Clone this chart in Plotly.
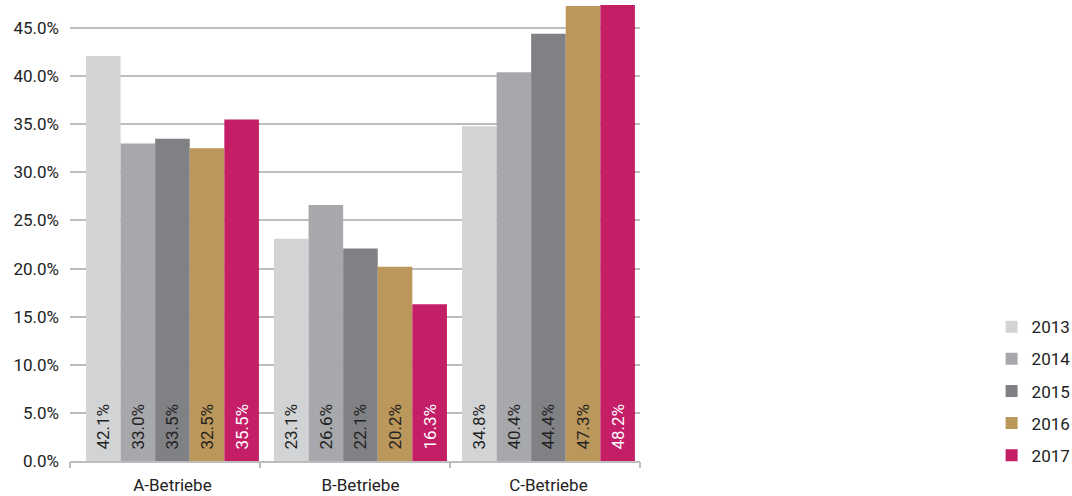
import plotly.graph_objects as go

categories = ["A-Betriebe", "B-Betriebe", "C-Betriebe"]
years = ["2013", "2014", "2015", "2016", "2017"]
values = {
    "2013": [42.1, 23.1, 34.8],
    "2014": [33.0, 26.6, 40.4],
    "2015": [33.5, 22.1, 44.4],
    "2016": [32.5, 20.2, 47.3],
    "2017": [35.5, 16.3, 48.2],
}
colors = {
    "2013": "#d2d3d5",
    "2014": "#a7a8ac",
    "2015": "#808185",
    "2016": "#bb975b",
    "2017": "#c41e67",
}
text_colors = {"2013": "#222222", "2014": "#222222", "2015": "#222222",
               "2016": "#222222", "2017": "#ffffff"}
y_ticks = [0, 5, 10, 15, 20, 25, 30, 35, 40, 45]
boundary_ticks = [0, 1, 2, 3]

FONT = "Roboto"
PAD = "\u00a0\u00a0"

fig = go.Figure()
for y in years:
    fig.add_trace(go.Bar(
        name=y, x=categories, y=values[y],
        marker=dict(color=colors[y], line=dict(width=0)),
        text=[f"{PAD}{v:.1f}%" for v in values[y]],
        textposition="inside", insidetextanchor="start", textangle=-90,
        textfont=dict(family=FONT, size=17, color=text_colors[y]),
        legendgroup=y,
        cliponaxis=True,
    ))

# empty helper trace so the boundary-tick axis is drawn
fig.add_trace(go.Scatter(x=[], y=[], xaxis="x2", yaxis="y",
                         showlegend=False, hoverinfo="skip"))

fig.update_layout(
    width=1072, height=496,
    margin=dict(l=70, r=432, t=5, b=35, autoexpand=False),
    barmode="group", bargap=0.08, bargroupgap=0,
    plot_bgcolor="white", paper_bgcolor="white",
    font=dict(family=FONT, size=17, color="#222222"),
    showlegend=True,
    legend=dict(xref="container", yref="container",
                x=0.925, xanchor="left", y=0.046, yanchor="bottom",
                font=dict(size=17, color="#222222"),
                traceorder="grouped", tracegroupgap=7,
                itemwidth=30),
    xaxis=dict(
        type="category", ticks="",
        range=[-0.545, 2.487],
        showline=True, linecolor="#bdbdbd", linewidth=1.5,
        showgrid=False, tickfont=dict(size=17), ticklabelstandoff=8,
    ),
    xaxis2=dict(
        overlaying="x", anchor="y", side="bottom", range=[0, 3],
        tickvals=boundary_ticks, ticks="outside", ticklen=6, tickwidth=1.5,
        tickcolor="#bdbdbd", showticklabels=False, showline=False,
        showgrid=False, zeroline=False,
    ),
    yaxis=dict(
        range=[0, 47.4], tickvals=y_ticks, ticktext=[f"{t:.1f}%" for t in y_ticks],
        showgrid=True, gridcolor="#bdbdbd", gridwidth=1.5,
        zeroline=False, showline=False, ticks="", ticklabelstandoff=10,
        tickfont=dict(size=17),
    ),
)

fig.write_html("out.html")
